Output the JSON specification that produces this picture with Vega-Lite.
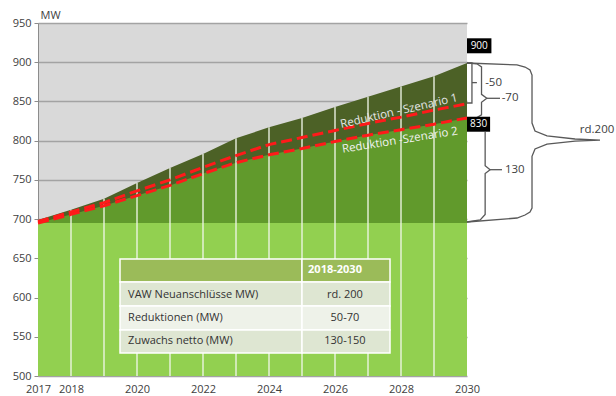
{
  "$schema": "https://vega.github.io/schema/vega-lite/v6.json",
  "width": 429,
  "height": 353,
  "autosize": {"type": "none"},
  "padding": {"left": 38, "top": 23, "right": 149, "bottom": 20},
  "background": "white",
  "config": {
    "view": {"fill": "#d9d9d9", "stroke": null},
    "font": "Open Sans",
    "text": {"font": "Open Sans"},
    "axisY": {
      "tickCount": 10, "labelFontSize": 11, "labelColor": "#404040", "labelPadding": 3,
      "tickSize": 4, "tickColor": "#8c8c8c", "domainColor": "#8c8c8c",
      "gridColor": "#a3a3a3", "gridWidth": 1.3, "labelFlush": false, "labelOverlap": false,
      "titleAngle": 0, "titleAlign": "left", "titleBaseline": "middle",
      "titleX": 2, "titleY": -8, "titleFontSize": 11, "titleFontWeight": "normal", "titleColor": "#404040"
    },
    "axisX": {
      "domain": false, "ticks": false, "grid": false,
      "labelFontSize": 11, "labelColor": "#404040", "labelPadding": 7,
      "labelFlush": false, "labelOverlap": false, "labelBound": false
    }
  },
  "datasets": {
    "series": [
      {"year": 2017, "total": 699, "s1": 697, "s2": 695, "base": 695},
      {"year": 2018, "total": 712, "s1": 709, "s2": 706, "base": 695},
      {"year": 2019, "total": 726, "s1": 721, "s2": 717, "base": 695},
      {"year": 2020, "total": 746, "s1": 736, "s2": 730, "base": 695},
      {"year": 2021, "total": 765, "s1": 750, "s2": 743, "base": 695},
      {"year": 2022, "total": 783, "s1": 766, "s2": 758, "base": 695},
      {"year": 2023, "total": 803, "s1": 781, "s2": 772, "base": 695},
      {"year": 2024, "total": 817, "s1": 795, "s2": 782, "base": 695},
      {"year": 2025, "total": 829, "s1": 804, "s2": 790, "base": 695},
      {"year": 2026, "total": 843, "s1": 813, "s2": 799, "base": 695},
      {"year": 2027, "total": 856, "s1": 822, "s2": 807, "base": 695},
      {"year": 2028, "total": 869, "s1": 830, "s2": 814, "base": 695},
      {"year": 2029, "total": 882, "s1": 839, "s2": 821, "base": 695},
      {"year": 2030, "total": 899, "s1": 847, "s2": 829, "base": 695}
    ],
    "scen": [
      {"label": "Reduktion - Szenario 1", "x": 2027.94, "y": 837, "n": 1},
      {"label": "Reduktion -Szenario 2", "x": 2027.97, "y": 800, "n": 2}
    ],
    "cells": [
      {"x1": 2019.485, "x2": 2025.0, "y1": 649.2, "y2": 619.8, "kind": "head"},
      {"x1": 2025.0, "x2": 2027.667, "y1": 649.2, "y2": 619.8, "kind": "head"},
      {"x1": 2019.485, "x2": 2025.0, "y1": 619.8, "y2": 589.2, "kind": "odd"},
      {"x1": 2025.0, "x2": 2027.667, "y1": 619.8, "y2": 589.2, "kind": "odd"},
      {"x1": 2019.485, "x2": 2025.0, "y1": 589.2, "y2": 558.6, "kind": "even"},
      {"x1": 2025.0, "x2": 2027.667, "y1": 589.2, "y2": 558.6, "kind": "even"},
      {"x1": 2019.485, "x2": 2025.0, "y1": 558.6, "y2": 529.3, "kind": "odd"},
      {"x1": 2025.0, "x2": 2027.667, "y1": 558.6, "y2": 529.3, "kind": "odd"}
    ],
    "ttext": [
      {"label": "2018-2030", "x": 2026.0, "y": 634.5, "role": "head"},
      {"label": "VAW Neuanschlüsse MW)", "x": 2019.73, "y": 603.5, "role": "name"},
      {"label": "rd. 200", "x": 2026.3, "y": 603.5, "role": "value"},
      {"label": "Reduktionen (MW)", "x": 2019.73, "y": 573.5, "role": "name"},
      {"label": "50-70", "x": 2026.3, "y": 573.5, "role": "value"},
      {"label": "Zuwachs netto (MW)", "x": 2019.73, "y": 544, "role": "name"},
      {"label": "130-150", "x": 2026.3, "y": 544, "role": "value"}
    ],
    "braces": [
      {"b": "b50", "i": 1, "x": 2030.0, "y": 899},
      {"b": "b50", "i": 2, "x": 2030.15, "y": 899},
      {"b": "b50", "i": 3, "x": 2030.15, "y": 848},
      {"b": "b50", "i": 4, "x": 2030.0, "y": 848},
      {"b": "b50t", "i": 1, "x": 2030.15, "y": 874},
      {"b": "b50t", "i": 2, "x": 2030.3, "y": 874},
      {"b": "b70", "i": 1, "x": 2030.0, "y": 899},
      {"b": "b70", "i": 2, "x": 2030.3, "y": 898},
      {"b": "b70", "i": 3, "x": 2030.44, "y": 894},
      {"b": "b70", "i": 4, "x": 2030.44, "y": 859},
      {"b": "b70", "i": 5, "x": 2030.6, "y": 854},
      {"b": "b70", "i": 6, "x": 2030.44, "y": 849},
      {"b": "b70", "i": 7, "x": 2030.44, "y": 833},
      {"b": "b70", "i": 8, "x": 2030.3, "y": 829.5},
      {"b": "b70", "i": 9, "x": 2030.0, "y": 828.5},
      {"b": "b70t", "i": 1, "x": 2030.6, "y": 854},
      {"b": "b70t", "i": 2, "x": 2031.0, "y": 854},
      {"b": "b130", "i": 1, "x": 2030.55, "y": 811},
      {"b": "b130", "i": 2, "x": 2030.55, "y": 768},
      {"b": "b130", "i": 3, "x": 2030.7, "y": 763},
      {"b": "b130", "i": 4, "x": 2030.55, "y": 758},
      {"b": "b130", "i": 5, "x": 2030.55, "y": 706},
      {"b": "b130", "i": 6, "x": 2030.4, "y": 699},
      {"b": "b130", "i": 7, "x": 2030.0, "y": 696.3},
      {"b": "b130t", "i": 1, "x": 2030.7, "y": 763},
      {"b": "b130t", "i": 2, "x": 2031.06, "y": 763},
      {"b": "b200", "i": 1, "x": 2030.0, "y": 899},
      {"b": "b200", "i": 2, "x": 2031.515, "y": 896.5},
      {"b": "b200", "i": 3, "x": 2031.758, "y": 893.9},
      {"b": "b200", "i": 4, "x": 2031.909, "y": 890.1},
      {"b": "b200", "i": 5, "x": 2031.97, "y": 883.7},
      {"b": "b200", "i": 6, "x": 2031.97, "y": 822.5},
      {"b": "b200", "i": 7, "x": 2032.061, "y": 812.3},
      {"b": "b200", "i": 8, "x": 2032.424, "y": 806.0},
      {"b": "b200", "i": 9, "x": 2033.273, "y": 802.1},
      {"b": "b200", "i": 10, "x": 2034.03, "y": 800.8},
      {"b": "b200", "i": 11, "x": 2033.273, "y": 799.5},
      {"b": "b200", "i": 12, "x": 2032.424, "y": 795.7},
      {"b": "b200", "i": 13, "x": 2032.061, "y": 789.4},
      {"b": "b200", "i": 14, "x": 2031.97, "y": 780},
      {"b": "b200", "i": 15, "x": 2031.97, "y": 714.2},
      {"b": "b200", "i": 16, "x": 2031.909, "y": 709.1},
      {"b": "b200", "i": 17, "x": 2031.758, "y": 705.2},
      {"b": "b200", "i": 18, "x": 2031.515, "y": 701.4},
      {"b": "b200", "i": 19, "x": 2030.0, "y": 696.3}
    ],
    "boxes": [
      {"x1": 2030.0, "x2": 2030.74, "y1": 930.5, "y2": 911.4, "label": "900", "xc": 2030.37, "yc": 921},
      {"x1": 2030.0, "x2": 2030.7, "y1": 830.5, "y2": 811.4, "label": "830", "xc": 2030.35, "yc": 821}
    ],
    "notes": [
      {"label": "-50", "x": 2030.55, "y": 873.5},
      {"label": "-70", "x": 2031.05, "y": 854},
      {"label": "130", "x": 2031.15, "y": 763},
      {"label": "rd.200", "x": 2033.42, "y": 813}
    ]
  },
  "layer": [
    {
      "data": {"name": "series"},
      "mark": {"type": "area", "color": "#4c6126"},
      "encoding": {
        "x": {
          "field": "year", "type": "quantitative",
          "scale": {"domain": [2017, 2030], "nice": false, "zero": false},
          "axis": {"values": [2017, 2018, 2020, 2022, 2024, 2026, 2028, 2030], "format": "d", "title": null}
        },
        "y": {
          "field": "total", "type": "quantitative",
          "scale": {"domain": [500, 950], "nice": false, "zero": false},
          "axis": {"values": [500, 550, 600, 650, 700, 750, 800, 850, 900, 950], "title": "MW"}
        },
        "y2": {"datum": 500}
      }
    },
    {
      "data": {"name": "series"},
      "mark": {"type": "area", "color": "#619a2c"},
      "encoding": {
        "x": {"field": "year", "type": "quantitative"},
        "y": {"field": "s2", "type": "quantitative", "axis": {"values": [500, 550, 600, 650, 700, 750, 800, 850, 900, 950]}},
        "y2": {"datum": 500}
      }
    },
    {
      "data": {"name": "series"},
      "mark": {"type": "area", "color": "#92d050"},
      "encoding": {
        "x": {"field": "year", "type": "quantitative"},
        "y": {"field": "base", "type": "quantitative", "axis": {"values": [500, 550, 600, 650, 700, 750, 800, 850, 900, 950]}},
        "y2": {"datum": 500}
      }
    },
    {
      "data": {"name": "series"},
      "transform": [{"filter": "datum.year > 2017 && datum.year < 2030"}],
      "mark": {"type": "rule", "color": "#eef5e6", "strokeWidth": 1.5, "opacity": 0.9},
      "encoding": {
        "x": {"field": "year", "type": "quantitative"},
        "y": {"field": "total", "type": "quantitative", "axis": {"values": [500, 550, 600, 650, 700, 750, 800, 850, 900, 950]}},
        "y2": {"datum": 500}
      }
    },
    {
      "data": {"name": "series"},
      "mark": {"type": "line", "color": "#ff1a1a", "strokeWidth": 3, "strokeDash": [11, 5]},
      "encoding": {
        "x": {"field": "year", "type": "quantitative"},
        "y": {"field": "s1", "type": "quantitative", "axis": {"values": [500, 550, 600, 650, 700, 750, 800, 850, 900, 950]}}
      }
    },
    {
      "data": {"name": "series"},
      "mark": {"type": "line", "color": "#ff1a1a", "strokeWidth": 3, "strokeDash": [11, 5]},
      "encoding": {
        "x": {"field": "year", "type": "quantitative"},
        "y": {"field": "s2", "type": "quantitative", "axis": {"values": [500, 550, 600, 650, 700, 750, 800, 850, 900, 950]}}
      }
    },
    {
      "data": {"name": "scen"},
      "transform": [{"filter": "datum.n == 1"}],
      "mark": {"type": "text", "angle": 347, "fontSize": 11.5, "color": "#e6e6e6", "align": "center", "baseline": "middle"},
      "encoding": {
        "x": {"field": "x", "type": "quantitative"},
        "y": {"field": "y", "type": "quantitative", "axis": {"values": [500, 550, 600, 650, 700, 750, 800, 850, 900, 950]}},
        "text": {"field": "label"}
      }
    },
    {
      "data": {"name": "scen"},
      "transform": [{"filter": "datum.n == 2"}],
      "mark": {"type": "text", "angle": 351, "fontSize": 11.5, "color": "#f2f2f2", "align": "center", "baseline": "middle"},
      "encoding": {
        "x": {"field": "x", "type": "quantitative"},
        "y": {"field": "y", "type": "quantitative", "axis": {"values": [500, 550, 600, 650, 700, 750, 800, 850, 900, 950]}},
        "text": {"field": "label"}
      }
    },
    {
      "data": {"name": "cells"},
      "mark": {"type": "rect", "stroke": "white", "strokeWidth": 1.5},
      "encoding": {
        "x": {"field": "x1", "type": "quantitative"},
        "x2": {"field": "x2"},
        "y": {"field": "y1", "type": "quantitative", "axis": {"values": [500, 550, 600, 650, 700, 750, 800, 850, 900, 950]}},
        "y2": {"field": "y2"},
        "color": {
          "field": "kind", "type": "nominal", "legend": null,
          "scale": {"domain": ["head", "odd", "even"], "range": ["#9bbb59", "#dee6d2", "#eef2e9"]}
        }
      }
    },
    {
      "data": {"name": "ttext"},
      "transform": [{"filter": "datum.role == 'name'"}],
      "mark": {"type": "text", "fontSize": 11, "color": "#333333", "align": "left", "baseline": "middle"},
      "encoding": {
        "x": {"field": "x", "type": "quantitative"},
        "y": {"field": "y", "type": "quantitative", "axis": {"values": [500, 550, 600, 650, 700, 750, 800, 850, 900, 950]}},
        "text": {"field": "label"}
      }
    },
    {
      "data": {"name": "ttext"},
      "transform": [{"filter": "datum.role == 'value'"}],
      "mark": {"type": "text", "fontSize": 11, "color": "#333333", "align": "center", "baseline": "middle"},
      "encoding": {
        "x": {"field": "x", "type": "quantitative"},
        "y": {"field": "y", "type": "quantitative", "axis": {"values": [500, 550, 600, 650, 700, 750, 800, 850, 900, 950]}},
        "text": {"field": "label"}
      }
    },
    {
      "data": {"name": "ttext"},
      "transform": [{"filter": "datum.role == 'head'"}],
      "mark": {"type": "text", "fontSize": 11, "fontWeight": "bold", "color": "white", "align": "center", "baseline": "middle"},
      "encoding": {
        "x": {"field": "x", "type": "quantitative"},
        "y": {"field": "y", "type": "quantitative", "axis": {"values": [500, 550, 600, 650, 700, 750, 800, 850, 900, 950]}},
        "text": {"field": "label"}
      }
    },
    {
      "data": {"name": "braces"},
      "mark": {"type": "line", "color": "#595959", "strokeWidth": 1.3},
      "encoding": {
        "x": {"field": "x", "type": "quantitative"},
        "y": {"field": "y", "type": "quantitative", "axis": {"values": [500, 550, 600, 650, 700, 750, 800, 850, 900, 950]}},
        "detail": {"field": "b"},
        "order": {"field": "i", "type": "quantitative"}
      }
    },
    {
      "data": {"name": "boxes"},
      "mark": {"type": "rect", "color": "black"},
      "encoding": {
        "x": {"field": "x1", "type": "quantitative"},
        "x2": {"field": "x2"},
        "y": {"field": "y1", "type": "quantitative", "axis": {"values": [500, 550, 600, 650, 700, 750, 800, 850, 900, 950]}},
        "y2": {"field": "y2"}
      }
    },
    {
      "data": {"name": "boxes"},
      "mark": {"type": "text", "fontSize": 10, "color": "white", "align": "center", "baseline": "middle"},
      "encoding": {
        "x": {"field": "xc", "type": "quantitative"},
        "y": {"field": "yc", "type": "quantitative", "axis": {"values": [500, 550, 600, 650, 700, 750, 800, 850, 900, 950]}},
        "text": {"field": "label"}
      }
    },
    {
      "data": {"name": "notes"},
      "mark": {"type": "text", "fontSize": 11.5, "color": "#404040", "align": "left", "baseline": "middle"},
      "encoding": {
        "x": {"field": "x", "type": "quantitative"},
        "y": {"field": "y", "type": "quantitative", "axis": {"values": [500, 550, 600, 650, 700, 750, 800, 850, 900, 950]}},
        "text": {"field": "label"}
      }
    }
  ]
}
